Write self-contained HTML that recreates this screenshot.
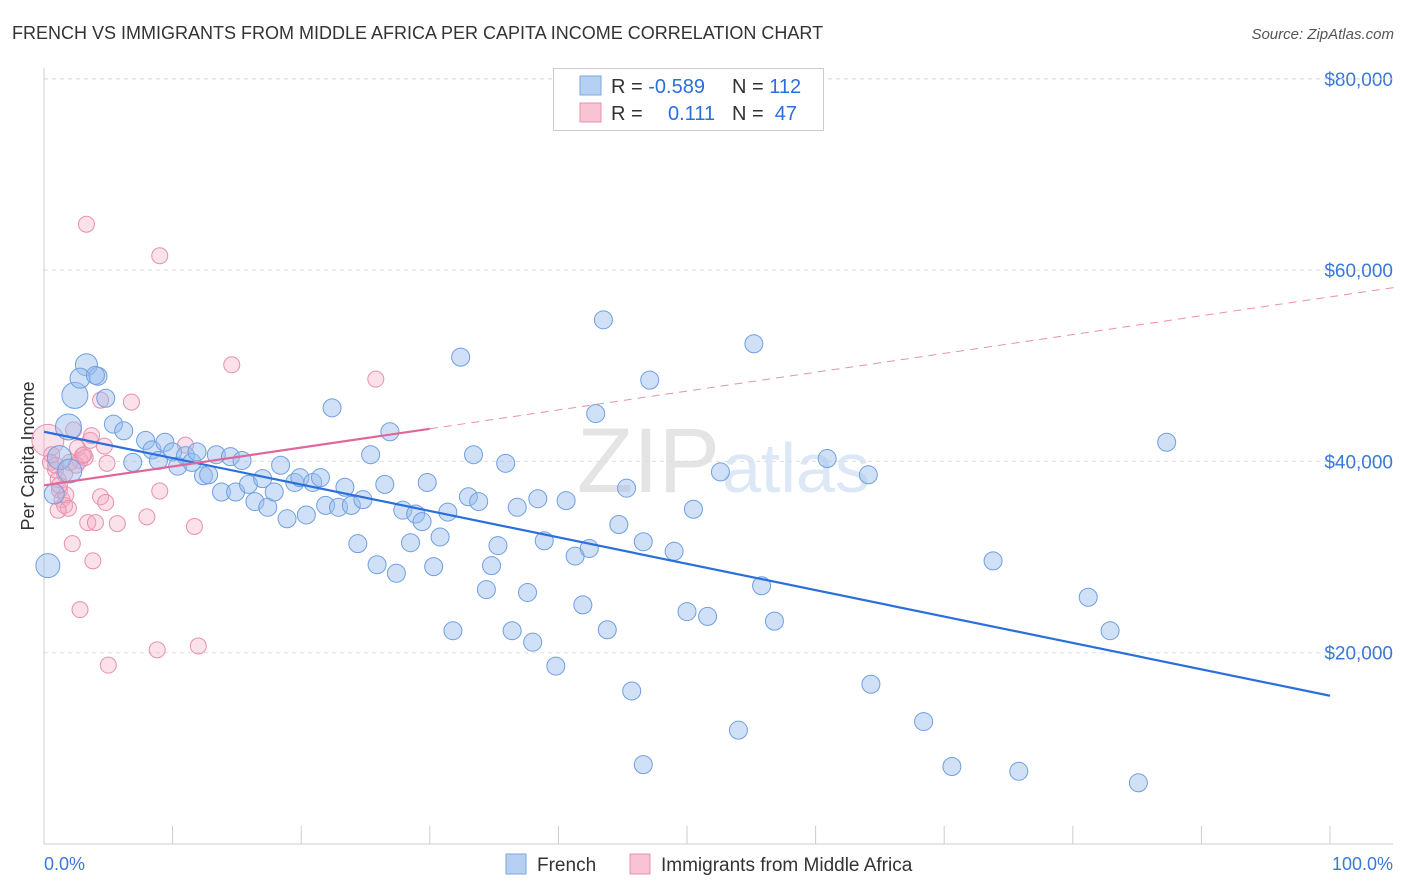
<!DOCTYPE html>
<html><head><meta charset="utf-8"><style>
body{margin:0;background:#fff;font-family:"Liberation Sans",sans-serif;}
#wrap{position:relative;width:1406px;height:892px;overflow:hidden;}
svg text{font-family:"Liberation Sans",sans-serif;}
</style></head><body>
<div id="wrap">
<svg id="chart" width="1406" height="892">
<text x="12" y="39" font-size="18" fill="#333">FRENCH VS IMMIGRANTS FROM MIDDLE AFRICA PER CAPITA INCOME CORRELATION CHART</text>
<text x="1394" y="39" font-size="15" fill="#555" font-style="italic" text-anchor="end">Source: ZipAtlas.com</text>
<text x="34" y="456" font-size="18" fill="#333" text-anchor="middle" transform="rotate(-90 34 456)">Per Capita Income</text>
<text x="720" y="492" font-size="92" fill="#e4e4e4" text-anchor="end" font-family="Liberation Serif">ZIP</text>
<text x="722" y="492" font-size="70" fill="#dde8f6">atlas</text>
<g id="grid"></g><g id="pts"></g><g id="lines"></g>
<g>
<rect x="553.5" y="68.5" width="270" height="62" fill="#fff" stroke="#ccc"/>
<rect x="580" y="76" width="21" height="19" fill="#b5d0f3" stroke="#7aa7e0"/>
<rect x="580" y="103" width="21" height="19" fill="#f8c4d4" stroke="#e890ad"/>
<text x="611" y="93" font-size="20" fill="#333">R = <tspan fill="#2a6fdb">-0.589</tspan></text>
<text x="732" y="93" font-size="20" fill="#333">N = <tspan fill="#2a6fdb">112</tspan></text>
<text x="611" y="120" font-size="20" fill="#333">R =</text>
<text x="668" y="120" font-size="20" fill="#2a6fdb">0.111</text>
<text x="732" y="120" font-size="20" fill="#333">N = <tspan fill="#2a6fdb">&#160;47</tspan></text>
</g>
<text x="44" y="870" font-size="18" fill="#3a78d8">0.0%</text>
<text x="1393" y="870" font-size="18" fill="#3a78d8" text-anchor="end">100.0%</text>
<g>
<rect x="506" y="854" width="20" height="20" fill="#b5d0f3" stroke="#7aa7e0"/>
<text x="537" y="871" font-size="19" fill="#333">French</text>
<rect x="630" y="854" width="20" height="20" fill="#f8c4d4" stroke="#e890ad"/>
<text x="661" y="871" font-size="19" fill="#333">Immigrants from Middle Africa</text>
</g>
</svg>
</div>
<script>
const yTicks=[20000,40000,60000,80000];
const yTickLabels=["$20,000","$40,000","$60,000","$80,000"];
const xTicks=[0,10,20,30,40,50,60,70,80,90,100];
const frenchX=[0.3,3.3,2.4,1.9,2.8,4.2,4.0,4.8,5.4,6.2,6.9,7.9,8.4,8.9,9.4,10.0,10.4,11.0,11.5,11.9,12.4,12.8,13.4,13.8,14.5,14.9,15.4,15.9,16.4,17.0,17.4,17.9,18.4,18.9,19.5,19.9,20.4,20.9,21.5,21.9,22.4,22.9,23.4,23.9,24.4,24.8,25.4,25.9,26.5,26.9,27.4,27.9,28.5,28.9,29.4,29.8,30.3,30.8,31.4,31.8,32.4,33.0,33.4,33.8,34.4,34.8,35.3,35.9,36.4,36.8,37.6,38.0,38.4,38.9,39.8,40.6,41.3,41.9,42.4,42.9,43.5,43.8,44.7,45.3,45.7,46.6,46.6,47.1,49.0,50.0,50.5,51.6,52.6,54.0,55.2,55.8,56.8,60.9,64.1,64.3,68.4,70.6,73.8,75.8,81.2,82.9,85.1,87.3,1.2,2.0,0.8];
const frenchY=[29100,50100,46900,43600,48700,48900,49000,46600,43900,43200,39900,42200,41200,40100,42000,41000,39500,40600,39900,41000,38500,38600,40700,36800,40500,36800,40100,37600,35800,38200,35200,36800,39600,34000,37800,38300,34400,37800,38300,35400,45600,35200,37300,35400,31400,36000,40700,29200,37600,43100,28300,34900,31500,34500,33700,37800,29000,32100,34700,22300,50900,36300,40700,35800,26600,29100,31200,39800,22300,35200,26300,21100,36100,31700,18600,35900,30100,25000,30900,45000,54800,22400,33400,37200,16000,31600,8300,48500,30600,24300,35000,23800,38900,11900,52300,27000,23300,40300,38600,16700,12800,8100,29600,7600,25800,22300,6400,42000,40400,39000,36600];
const frenchSize=[12,11,13,13,10,9,9,9,9,9,9,9,9,9,9,9,9,9,9,9,9,9,9,9,9,9,9,9,9,9,9,9,9,9,9,9,9,9,9,9,9,9,9,9,9,9,9,9,9,9,9,9,9,9,9,9,9,9,9,9,9,9,9,9,9,9,9,9,9,9,9,9,9,9,9,9,9,9,9,9,9,9,9,9,9,9,9,9,9,9,9,9,9,9,9,9,9,9,9,9,9,9,9,9,9,9,9,9,12,12,10];
const immX=[0.3,0.5,0.9,1.1,1.2,1.4,1.6,1.7,1.9,2.2,2.3,2.6,2.8,2.8,3.0,3.2,3.3,3.4,3.6,3.7,3.8,4.0,4.4,4.4,4.7,4.9,5.0,4.8,5.7,6.8,8.0,8.8,9.0,9.0,11.0,11.7,12.0,14.6,25.8,0.6,0.9,1.2,1.6,2.0,2.5,3.1,1.1];
const immY=[42200,39900,39100,38100,37000,36000,35400,36500,35100,31400,43300,41400,40100,24500,40600,40400,64800,33600,42200,42700,29600,33600,36300,46400,41600,39800,18700,35700,33500,46200,34200,20300,36900,61500,41700,33200,20700,50100,48600,40700,39600,37500,38700,39900,39600,40700,34900];
const frenchTrend=[43100,15500];
const immTrend=[37500,0.197];

const NS="http://www.w3.org/2000/svg";
const X0=44,X1=1330,YB=844,PXPER=191.3/20000;
const sx=v=>X0+(X1-X0)*v/100;
const sy=v=>YB-v*PXPER;
function mk(tag,attrs,parent){const e=document.createElementNS(NS,tag);for(const k in attrs)e.setAttribute(k,attrs[k]);parent.appendChild(e);return e;}
const grid=document.getElementById('grid'),pts=document.getElementById('pts'),lines=document.getElementById('lines');
yTicks.forEach((t,i)=>{
 const l=mk('line',{x1:X0,x2:1393,y1:sy(t),y2:sy(t),stroke:'#ddd','stroke-dasharray':'4,4'},grid);
 
 
 const tx=mk('text',{x:1393,y:sy(t)+7,'font-size':19,fill:'#3a78d8','text-anchor':'end'},grid);
 tx.textContent=yTickLabels[i];
 
 
});
const topl=mk('line',{x1:X0,x2:1393,y1:79,y2:79,stroke:'#ddd','stroke-dasharray':'4,4'},grid);


const ya=mk('line',{x1:X0,x2:X0,y1:68,y2:YB,stroke:'#ccc'},grid);


const xa=mk('line',{x1:X0,x2:1393,y1:YB,y2:YB,stroke:'#ccc'},grid);


xTicks.forEach(t=>{
 const l=mk('line',{x1:sx(t),x2:sx(t),y1:YB,y2:YB-18,stroke:'#ccc'},grid);
 
 
});
immX.forEach((x,i)=>{
 const c=mk('circle',{cx:sx(x),cy:sy(immY[i]),r:i===0?16:8,fill:'rgba(244,170,195,0.35)',stroke:'#e890ad','stroke-width':1},pts);
 
 
});
frenchX.forEach((x,i)=>{
 const c=mk('circle',{cx:sx(x),cy:sy(frenchY[i]),r:frenchSize[i]||9,fill:'rgba(150,188,238,0.45)',stroke:'#6f9fe0','stroke-width':1},pts);
 
 
});
const fl=mk('line',{x1:sx(0),y1:sy(frenchTrend[0]),x2:sx(100),y2:sy(frenchTrend[1]),stroke:'#2a6fdb','stroke-width':2.2},lines);


const il=mk('line',{x1:sx(0),y1:sy(immTrend[0]),x2:sx(30),y2:sy(immTrend[0]+30*immTrend[1]*1000),stroke:'#e0679a','stroke-width':2.2},lines);


const id=mk('line',{x1:sx(30),y1:sy(immTrend[0]+30*immTrend[1]*1000),x2:sx(105.2),y2:sy(immTrend[0]+105.2*immTrend[1]*1000),stroke:'#e890ad','stroke-width':1,'stroke-dasharray':'8,6'},lines);


</script>
</body></html>
